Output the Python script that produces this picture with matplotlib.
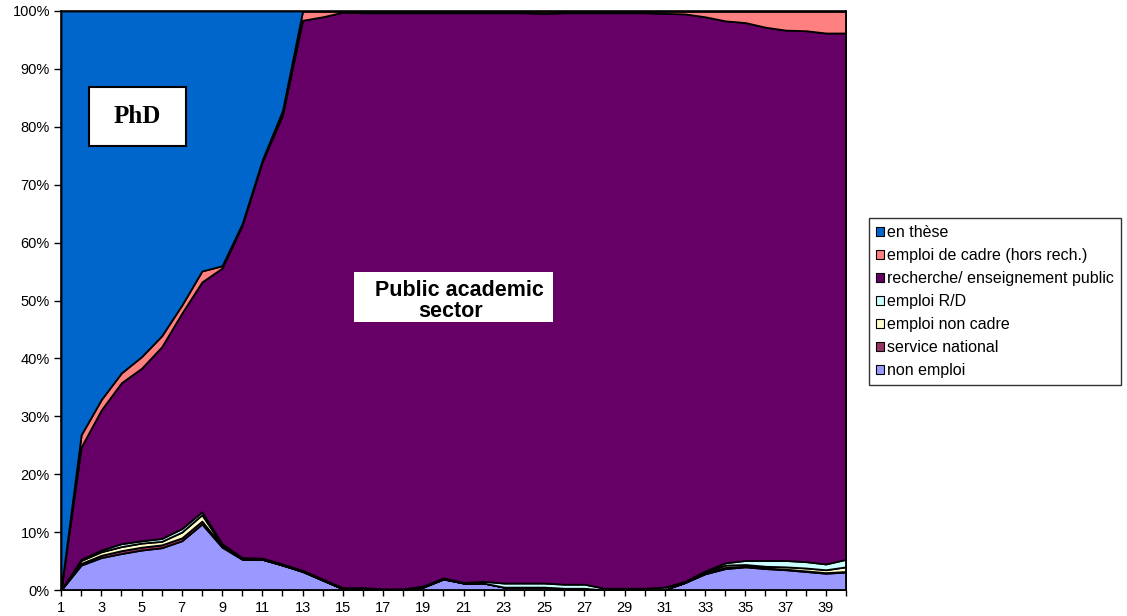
import matplotlib
matplotlib.use("Agg")
import matplotlib.pyplot as plt
from matplotlib.patches import Patch, Rectangle

plt.rcParams['font.family'] = ['Liberation Sans', 'DejaVu Sans']

# months since start (1..40), shares in %
months = list(range(1, 41))

non_emploi = [0, 4.3, 5.6, 6.3, 6.9, 7.3, 8.5, 11.4, 7.4, 5.3,
              5.3, 4.3, 3.2, 1.7, 0.2, 0.2, 0, 0, 0.5, 1.9,
              1.2, 1.2, 0.5, 0.5, 0.5, 0.3, 0.3, 0, 0, 0,
              0.1, 1.3, 2.8, 3.7, 4.0, 3.7, 3.5, 3.2, 2.9, 3.1]
service_national = [0, 0.3, 0.4, 0.5, 0.5, 0.5, 0.5, 0.5, 0.2, 0.1,
                    0, 0, 0, 0, 0, 0, 0, 0, 0, 0,
                    0, 0, 0, 0, 0, 0, 0, 0, 0, 0,
                    0, 0, 0.1, 0.2, 0.1, 0.1, 0.1, 0.1, 0.1, 0.1]
emploi_non_cadre = [0, 0.5, 0.6, 0.7, 0.7, 0.6, 1.0, 1.1, 0.2, 0.1,
                    0.1, 0.1, 0.1, 0.1, 0.1, 0.1, 0.1, 0.1, 0.1, 0.1,
                    0, 0, 0, 0, 0, 0, 0, 0, 0, 0,
                    0, 0, 0.2, 0.4, 0.3, 0.3, 0.4, 0.5, 0.5, 0.8]
emploi_rd = [0, 0.2, 0.3, 0.5, 0.4, 0.5, 0.6, 0.5, 0.2, 0.1,
             0.1, 0.1, 0.1, 0.1, 0.1, 0.1, 0.1, 0.1, 0.1, 0.1,
             0.1, 0.3, 0.7, 0.7, 0.7, 0.7, 0.7, 0.3, 0.3, 0.3,
             0.4, 0.2, 0.2, 0.4, 0.7, 1.0, 1.1, 1.1, 1.0, 1.3]
recherche = [0, 19.4, 24.2, 27.8, 29.8, 33.1, 37.2, 39.7, 47.6, 57.4,
             68.5, 77.5, 95.0, 97.1, 99.4, 99.3, 99.5, 99.5, 99.0, 97.6,
             98.4, 98.2, 98.5, 98.5, 98.4, 98.7, 98.7, 99.4, 99.4, 99.4,
             99.1, 98.0, 95.7, 93.6, 92.9, 92.1, 91.6, 91.7, 91.7, 90.9]
emploi_cadre = [0, 2.1, 1.8, 1.7, 2.0, 1.9, 1.4, 1.9, 0.4, 0.3,
                0.3, 0.8, 1.6, 1.0, 0.2, 0.3, 0.3, 0.3, 0.3, 0.3,
                0.3, 0.3, 0.3, 0.3, 0.4, 0.3, 0.3, 0.3, 0.3, 0.3,
                0.4, 0.5, 1.0, 1.7, 2.0, 2.8, 3.3, 3.4, 3.8, 3.8]
en_these = [100, 73.2, 67.1, 62.5, 59.7, 56.1, 50.8, 44.9, 44.0, 36.7,
            25.7, 17.2, 0, 0, 0, 0, 0, 0, 0, 0,
            0, 0, 0, 0, 0, 0, 0, 0, 0, 0,
            0, 0, 0, 0, 0, 0, 0, 0, 0, 0]

series = [non_emploi, service_national, emploi_non_cadre, emploi_rd,
          recherche, emploi_cadre, en_these]
labels = ['non emploi', 'service national', 'emploi non cadre', 'emploi R/D',
          'recherche/ enseignement public', 'emploi de cadre (hors rech.)', 'en thèse']
colors = ['#9999FF', '#993366', '#FFFFCC', '#CCFFFF', '#660066', '#FF8080', '#0066CC']

fig = plt.figure(figsize=(11.27, 6.16), dpi=100)
ax = fig.add_axes([61/1127, 26/616, 785/1127, 579/616])

ax.stackplot(months, *series, colors=colors, edgecolor='black', linewidth=1.3)

ax.set_xlim(1, 40)
ax.set_ylim(0, 100)
ax.set_yticks(range(0, 101, 10))
ax.set_yticklabels([f'{v}%' for v in range(0, 101, 10)])
ax.set_xticks(months)
ax.set_xticklabels([str(m) if m % 2 == 1 else '' for m in months])
ax.tick_params(axis='y', length=5, width=1, pad=3, labelsize=10.5)
ax.tick_params(axis='x', length=4, width=1, pad=4, labelsize=10.5)
for s in ax.spines.values():
    s.set_linewidth(1.2)

# annotation boxes
fig.patches.append(Rectangle((89/1127, 1 - 146/616), 97/1127, 59/616,
                             transform=fig.transFigure, facecolor='white',
                             edgecolor='black', linewidth=1.5, zorder=5))
fig.text(137.5/1127, 1 - 116.5/616, 'PhD', family='Liberation Serif',
         fontweight='bold', fontsize=18, ha='center', va='center', zorder=6)

fig.patches.append(Rectangle((354/1127, 1 - 322/616), 199/1127, 50/616,
                             transform=fig.transFigure, facecolor='white',
                             edgecolor='none', zorder=5))
fig.text(459/1127, 1 - 290/616, 'Public academic', fontweight='bold',
         fontsize=15.5, ha='center', va='center', zorder=6)
fig.text(451/1127, 1 - 312/616, 'sector', fontweight='bold',
         fontsize=15.5, ha='center', va='center', zorder=6)

handles = [Patch(facecolor=c, edgecolor='black', linewidth=0.8) for c in colors]
leg = fig.legend(handles[::-1], labels[::-1], loc='upper left',
                 bbox_to_anchor=(869/1127, 1 - 218/616), frameon=True,
                 fancybox=False, fontsize=11.5, handlelength=0.5, handleheight=0.5,
                 handletextpad=0.2, labelspacing=0.5, borderpad=0.45,
                 borderaxespad=0)
leg.get_frame().set_edgecolor('black')
leg.get_frame().set_linewidth(1)

plt.savefig('out.png', dpi=100)
